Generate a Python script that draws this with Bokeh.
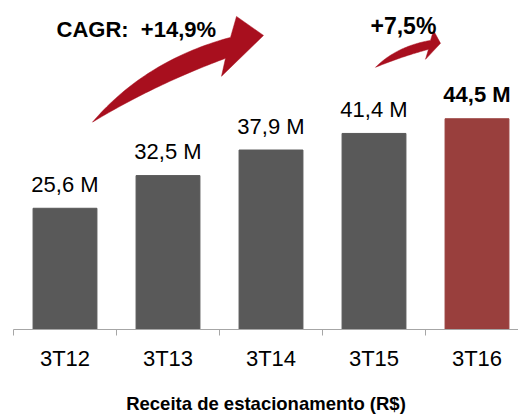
import numpy as np
from bokeh.plotting import figure
from bokeh.models import ColumnDataSource, Range1d, FixedTicker, Label
from bokeh.core.properties import value
from bokeh.embed import file_html
from bokeh.resources import INLINE

# ---- data ----
categories = ["3T12", "3T13", "3T14", "3T15", "3T16"]
values = [25.6, 32.5, 37.9, 41.4, 44.5]
bar_colors = ["#595959", "#595959", "#595959", "#595959", "#993f3d"]
label_styles = ["normal", "normal", "normal", "normal", "bold"]
cagr_text = "CAGR:\u00a0 +14,9%"
yoy_text = "+7,5%"
x_title = "Receita de estacionamento (R$)"

FONT = "Liberation Sans"

# ---- layout constants (image pixel geometry) ----
FIG_W, FIG_H = 518, 416
LEFT_PX, BASE_PX = 13, 330          # frame left / baseline
PX_PER_CAT, PX_PER_UNIT = 103, 4.75


def dx(px):
    return (px - LEFT_PX) / PX_PER_CAT - 0.5


def dy(py):
    return (BASE_PX - py) / PX_PER_UNIT


x_end = dx(FIG_W)
y_end = dy(0)

xs = list(range(len(categories)))
src = ColumnDataSource(dict(
    x=xs,
    top=values,
    color=bar_colors,
    label=[f"{v:.1f}".replace(".", ",") + " M" for v in values],
    style=label_styles,
))

p = figure(width=FIG_W, height=FIG_H, output_backend="svg", toolbar_location=None,
           x_range=Range1d(-0.5, x_end), y_range=Range1d(0, y_end),
           min_border_left=LEFT_PX, min_border_right=0, min_border_top=0,
           min_border_bottom=FIG_H - BASE_PX)
p.outline_line_color = None
p.background_fill_color = "white"
p.border_fill_color = "white"
p.xgrid.visible = False
p.ygrid.visible = False
p.yaxis.visible = False

p.vbar(x="x", top="top", bottom=0, width=0.62, color="color", source=src)
p.text(x="x", y="top", text="label", source=src, text_align="center",
       text_baseline="alphabetic", y_offset=-24, text_font_size="22px",
       text_font=value(FONT), text_font_style="style", text_color="#000000")

ax = p.xaxis[0]
ax.ticker = FixedTicker(ticks=xs, minor_ticks=[i - 0.5 for i in xs])
ax.major_label_overrides = {i: c for i, c in enumerate(categories)}
ax.major_tick_line_color = None
ax.major_tick_out = 6
ax.major_tick_in = 0
ax.minor_tick_out = 6
ax.minor_tick_in = 0
ax.minor_tick_line_color = "#a6a6a6"
ax.axis_line_color = "#a6a6a6"
ax.axis_line_width = 1.2
ax.major_label_text_font = FONT
ax.major_label_text_font_size = "22px"
ax.major_label_text_color = "#000000"
ax.major_label_standoff = 10
ax.axis_label = x_title
ax.axis_label_text_font = FONT
ax.axis_label_text_font_style = "bold"
ax.axis_label_text_font_size = "18.5px"
ax.axis_label_text_color = "#000000"
ax.axis_label_standoff = 19


def bez(p0, c, p1, n=40):
    t = np.linspace(0, 1, n)
    x = (1 - t) ** 2 * p0[0] + 2 * (1 - t) * t * c[0] + t ** 2 * p1[0]
    y = (1 - t) ** 2 * p0[1] + 2 * (1 - t) * t * c[1] + t ** 2 * p1[1]
    return list(x), list(y)


def arrow(tail, cu, a, head_top, tip, head_low, b, cl, color):
    ux, uy = bez(tail, cu, a)
    lx, ly = bez(tail, cl, b)
    px = ux + [head_top[0], tip[0], head_low[0]] + lx[::-1]
    py = uy + [head_top[1], tip[1], head_low[1]] + ly[::-1]
    p.patch([dx(v) for v in px], [dy(v) for v in py], fill_color=color,
            line_color=color, line_width=0.5)


arrow((92, 122), (145, 60), (230, 37), (236, 16), (263, 35), (221, 76),
      (225, 58), (155, 84), "#a80f1e")
arrow((375, 67), (396, 46), (430, 40), (433, 30), (440, 43), (425, 59),
      (428, 49), (402, 56), "#a80f1e")

p.add_layout(Label(x=dx(56), y=dy(29), text=cagr_text, text_font=FONT,
                   text_font_style="bold", text_font_size="22px",
                   text_color="#000000", text_baseline="alphabetic"))
p.add_layout(Label(x=dx(370), y=dy(25.5), text=yoy_text, text_font=FONT,
                   text_font_style="bold", text_font_size="23px",
                   text_color="#000000", text_baseline="alphabetic"))

open("out.html", "w").write(file_html(p, INLINE))
